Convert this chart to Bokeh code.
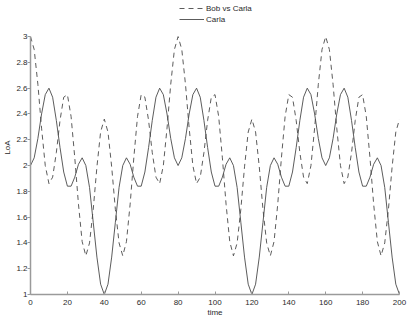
from bokeh.plotting import figure
from bokeh.models import Legend, LegendItem, FixedTicker, Range1d
from bokeh.embed import file_html
from bokeh.resources import INLINE

time = list(range(0, 201, 2))

carla = [
    2.00, 2.06, 2.21, 2.40, 2.55, 2.60, 2.53, 2.35, 2.14, 1.95,
    1.84, 1.84, 1.91, 2.01, 2.06, 2.00, 1.83, 1.56, 1.29, 1.08,
    1.00, 1.08, 1.29, 1.56, 1.83, 2.00, 2.06, 2.01, 1.91, 1.84,
    1.84, 1.95, 2.14, 2.35, 2.53, 2.60, 2.55, 2.40, 2.21, 2.06,
    2.00, 2.06, 2.21, 2.40, 2.55, 2.60, 2.53, 2.35, 2.14, 1.95,
    1.84, 1.84, 1.91, 2.01, 2.06, 2.00, 1.83, 1.56, 1.29, 1.08,
    1.00, 1.08, 1.29, 1.56, 1.83, 2.00, 2.06, 2.01, 1.91, 1.84,
    1.84, 1.95, 2.14, 2.35, 2.53, 2.60, 2.55, 2.40, 2.21, 2.06,
    2.00, 2.06, 2.21, 2.40, 2.55, 2.60, 2.53, 2.35, 2.14, 1.95,
    1.84, 1.84, 1.91, 2.01, 2.06, 2.00, 1.83, 1.56, 1.29, 1.08,
    1.00,
]

bob_vs_carla = [
    3.00, 2.90, 2.63, 2.29, 2.00, 1.86, 1.91, 2.10, 2.35, 2.53,
    2.55, 2.38, 2.06, 1.70, 1.41, 1.30, 1.40, 1.66, 1.99, 2.26,
    2.36, 2.26, 1.99, 1.66, 1.40, 1.30, 1.41, 1.70, 2.06, 2.38,
    2.55, 2.53, 2.35, 2.10, 1.91, 1.86, 2.00, 2.29, 2.63, 2.90,
    3.00, 2.90, 2.63, 2.29, 2.00, 1.86, 1.91, 2.10, 2.35, 2.53,
    2.55, 2.38, 2.06, 1.70, 1.41, 1.30, 1.40, 1.66, 1.99, 2.26,
    2.36, 2.26, 1.99, 1.66, 1.40, 1.30, 1.41, 1.70, 2.06, 2.38,
    2.55, 2.53, 2.35, 2.10, 1.91, 1.86, 2.00, 2.29, 2.63, 2.90,
    3.00, 2.90, 2.63, 2.29, 2.00, 1.86, 1.91, 2.10, 2.35, 2.53,
    2.55, 2.38, 2.06, 1.70, 1.41, 1.30, 1.40, 1.66, 1.99, 2.26,
    2.36,
]

x_ticks = [0, 20, 40, 60, 80, 100, 120, 140, 160, 180, 200]
y_ticks = [1, 1.2, 1.4, 1.6, 1.8, 2, 2.2, 2.4, 2.6, 2.8, 3]
y_tick_labels = ["1", "1.2", "1.4", "1.6", "1.8", "2", "2.2", "2.4", "2.6", "2.8", "3"]

FONT = "Liberation Sans"
TEXT = "#2a2a2a"
AXIS = "#9a9a9a"
LINE = "#4a4a4a"

# the frame reaches the top of the canvas so the legend (above the data) is not clipped;
# the y axis itself is bounded to the data range 1..3
p = figure(width=410, height=319, output_backend="svg", toolbar_location=None,
           x_range=Range1d(0, 200), y_range=Range1d(1, 3.28),
           min_border_left=27, min_border_right=11, min_border_top=0,
           min_border_bottom=24)
p.outline_line_color = None
p.xgrid.visible = False
p.ygrid.visible = False

r_bob = p.line(time, bob_vs_carla, line_color=LINE, line_width=0.9, line_dash="5 4")
r_carla = p.line(time, carla, line_color=LINE, line_width=0.9)

for ax in (p.xaxis[0], p.yaxis[0]):
    ax.axis_line_color = AXIS
    ax.axis_line_width = 1.5
    ax.major_tick_line_color = AXIS
    ax.minor_tick_line_color = None
    ax.major_label_text_font = FONT
    ax.major_label_text_font_size = "8px"
    ax.major_label_text_color = TEXT
    ax.axis_label_text_font = FONT
    ax.axis_label_text_font_size = "8px"
    ax.axis_label_text_font_style = "normal"
    ax.axis_label_text_color = TEXT

p.xaxis.major_tick_in = 3
p.xaxis.major_tick_out = 0
p.yaxis.major_tick_in = 0
p.yaxis.major_tick_out = 3

p.yaxis.bounds = (1, 3)
p.xaxis.ticker = FixedTicker(ticks=x_ticks)
p.yaxis.ticker = FixedTicker(ticks=y_ticks)
p.yaxis.major_label_overrides = {v: s for v, s in zip(y_ticks, y_tick_labels)}
p.xaxis.axis_label = "time"
p.yaxis.axis_label = "LoA"
p.xaxis.major_label_standoff = 5
p.yaxis.major_label_standoff = 0
p.xaxis.axis_label_standoff = 0
p.yaxis.axis_label_standoff = 1

legend = Legend(items=[LegendItem(label="Bob vs Carla", renderers=[r_bob]),
                       LegendItem(label="Carla", renderers=[r_carla])],
                location=(149, 270), orientation="vertical")
legend.label_text_font = FONT
legend.label_text_font_size = "8px"
legend.label_text_color = TEXT
legend.glyph_width = 25
legend.glyph_height = 10
legend.label_height = 10
legend.label_standoff = 2
legend.spacing = 1
legend.padding = 0
legend.margin = 0
legend.border_line_alpha = 0
legend.background_fill_alpha = 0
p.add_layout(legend, "center")

open("out.html", "w").write(file_html(p, INLINE))
